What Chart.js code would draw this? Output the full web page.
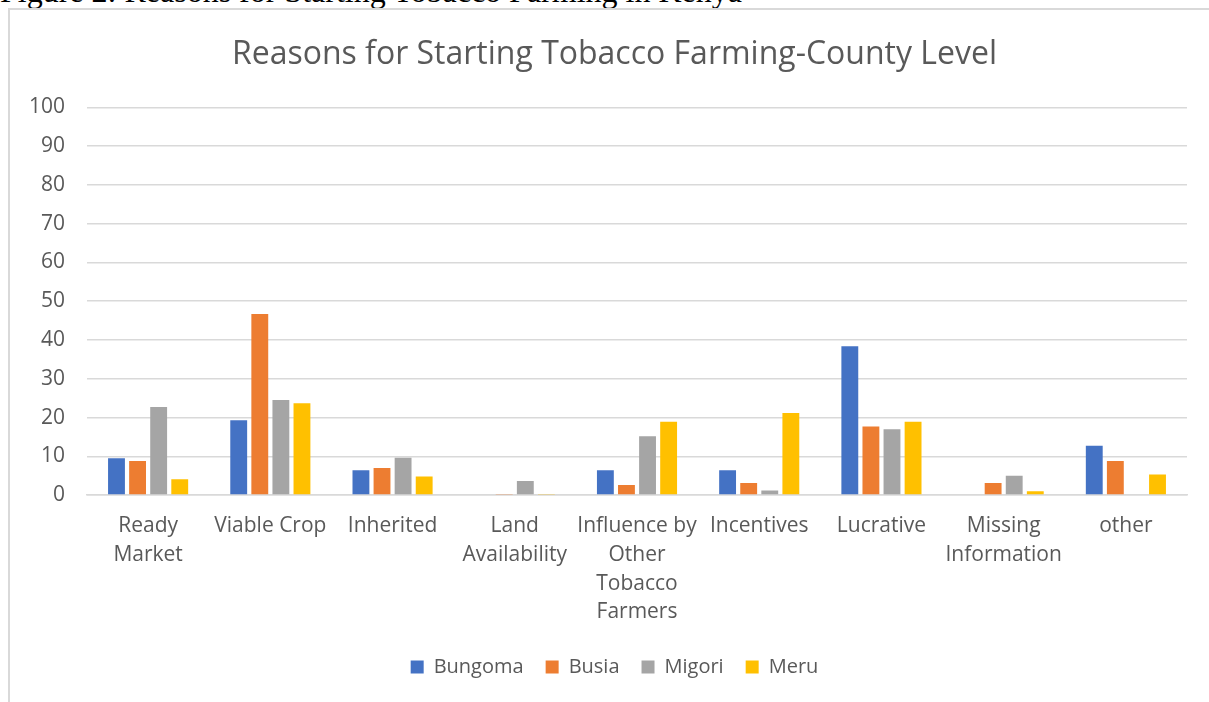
<!DOCTYPE html>
<html>
<head>
<meta charset="utf-8">
<script src="https://cdn.jsdelivr.net/npm/chart.js@4/dist/chart.umd.min.js"></script>
<style>
    html, body { margin: 0; padding: 0; background: #fff; overflow: hidden; }
    #caption {
        position: absolute; left: 0; top: -27px;
        font-family: "Liberation Serif", serif; font-size: 32px; color: #000;
        white-space: nowrap;
    }
    #box {
        position: absolute; left: 8px; top: 8px; width: 1210px; height: 700px;
        border-left: 2px solid #d9d9d9; border-top: 2px solid #d9d9d9;
        background: #fff;
    }
    #wrap { position: absolute; left: 0; top: 0; width: 1209px; height: 700px; }
</style>
</head>
<body>
<div id="caption">Figure 2: Reasons for Starting Tobacco Farming in Kenya</div>
<div id="box"><div id="wrap"><canvas id="grafico"></canvas></div></div>
<script>
// categorias e valores
const categorias = [
    ['Ready', 'Market'],
    'Viable Crop',
    'Inherited',
    ['Land', 'Availability'],
    ['Influence by', 'Other', 'Tobacco', 'Farmers'],
    'Incentives',
    'Lucrative',
    ['Missing', 'Information'],
    'other'
];
const bungoma = [9.5, 19.3, 6.4, 0, 6.4, 6.4, 38.4, 0, 12.7];
const busia   = [8.8, 46.7, 7.0, 0.3, 2.6, 3.1, 17.7, 3.1, 8.8];
const migori  = [22.7, 24.5, 9.6, 3.6, 15.2, 1.2, 17.0, 5.0, 0];
const meru    = [4.1, 23.7, 4.8, 0.3, 18.9, 21.2, 18.9, 1.0, 5.3];
const ticksY  = [0, 10, 20, 30, 40, 50, 60, 70, 80, 90, 100];

const fonte = '"Open Sans", Lato, sans-serif';
const cinzaTexto = '#595959';

function serie(label, data, cor) {
    return {
        label: label,
        data: data,
        backgroundColor: cor,
        borderWidth: 0,
        yAxisID: 'y',
        categoryPercentage: 0.69,
        barPercentage: 0.8
    };
}

new Chart(document.getElementById('grafico'), {
    type: 'bar',
    data: {
        labels: categorias,
        datasets: [
            serie('Bungoma', bungoma, '#4472c4'),
            serie('Busia', busia, '#ed7d31'),
            serie('Migori', migori, '#a5a5a5'),
            serie('Meru', meru, '#ffc000')
        ]
    },
    options: {
        responsive: true,
        maintainAspectRatio: false,
        animation: false,
        layout: { padding: { left: 0, right: 0, top: 26, bottom: 23 } },
        plugins: {
            title: {
                display: true,
                text: 'Reasons for Starting Tobacco Farming-County Level',
                color: cinzaTexto,
                font: { family: fonte, size: 32, weight: 'normal' },
                padding: { top: 0, bottom: 33 }
            },
            legend: {
                position: 'bottom',
                labels: {
                    boxWidth: 13,
                    boxHeight: 13,
                    color: cinzaTexto,
                    padding: 22,
                    font: { family: fonte, size: 20 }
                }
            },
            tooltip: { enabled: false }
        },
        scales: {
            y: {
                min: 0,
                max: 100,
                afterBuildTicks: s => { s.ticks = ticksY.map(v => ({ value: v })); },
                afterFit: s => { s.width = 77; },
                ticks: {
                    color: cinzaTexto,
                    padding: 22,
                    font: { family: fonte, size: 21 }
                },
                grid: { color: '#d9d9d9', lineWidth: 1.5, drawTicks: false },
                border: { display: false }
            },
            // eixo vazio à direita só para reservar a margem
            margemDireita: {
                position: 'right',
                grid: { display: false },
                ticks: { display: false },
                border: { display: false },
                afterFit: s => { s.width = 32; }
            },
            x: {
                ticks: {
                    color: cinzaTexto,
                    maxRotation: 0,
                    autoSkip: false,
                    padding: 8,
                    font: { family: fonte, size: 21, lineHeight: 1.38 }
                },
                grid: { display: false },
                border: { color: '#d9d9d9', width: 1.5 }
            }
        }
    }
});
</script>
</body>
</html>
